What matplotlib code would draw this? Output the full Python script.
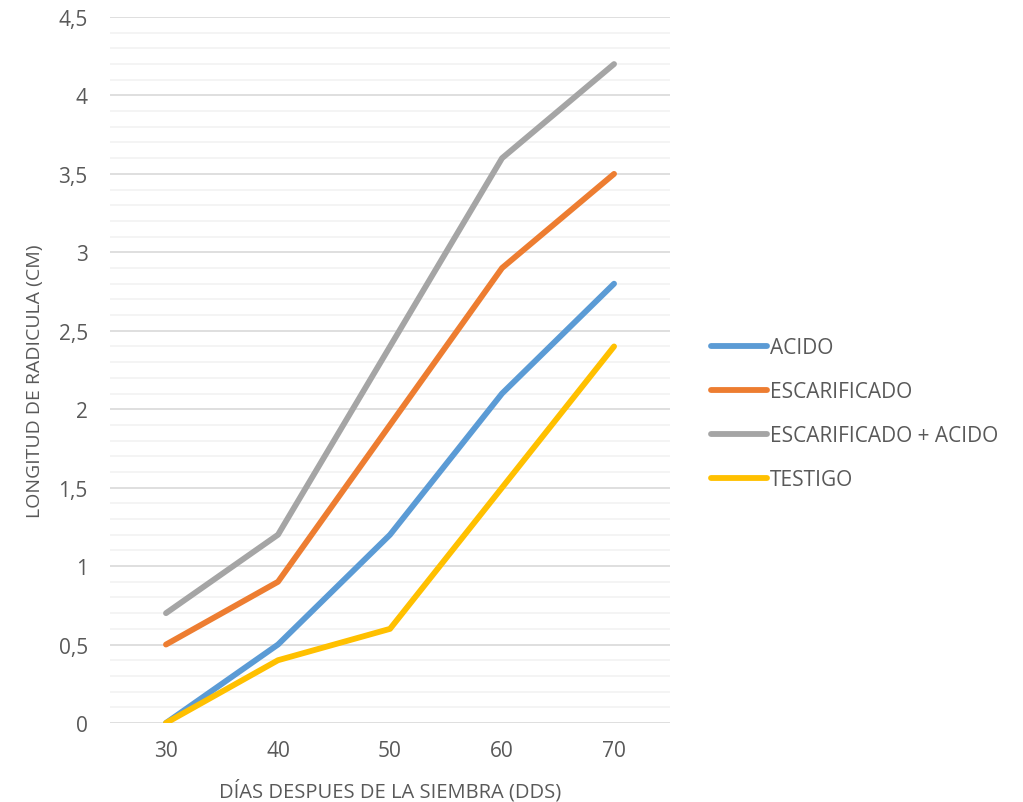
import numpy as np
import matplotlib.pyplot as plt
from matplotlib.ticker import MultipleLocator, FuncFormatter

dias = [30, 40, 50, 60, 70]
acido = [0, 0.5, 1.2, 2.1, 2.8]
escarificado = [0.5, 0.9, 1.9, 2.9, 3.5]
escarificado_acido = [0.7, 1.2, 2.4, 3.6, 4.2]
testigo = [0, 0.4, 0.6, 1.5, 2.4]

series = [
    ("ACIDO", acido, "#5b9bd5"),
    ("ESCARIFICADO", escarificado, "#ed7d31"),
    ("ESCARIFICADO + ACIDO", escarificado_acido, "#a5a5a5"),
    ("TESTIGO", testigo, "#ffc000"),
]

plt.rcParams["font.family"] = ["Open Sans", "DejaVu Sans"]
txt = "#595959"

fig = plt.figure(figsize=(10.23, 8.03), dpi=100)
ax = fig.add_axes([0.1075, 0.0984, 0.5475, 0.8792])

for name, vals, col in series:
    ax.plot(dias, vals, color=col, lw=4.2, label=name,
            solid_capstyle="round", solid_joinstyle="round", zorder=3)

ax.set_xlim(25, 75)
ax.set_ylim(0, 4.5)
ax.set_xticks(dias)
ax.yaxis.set_major_locator(MultipleLocator(0.5))
ax.yaxis.set_minor_locator(MultipleLocator(0.1))
ax.yaxis.set_major_formatter(FuncFormatter(lambda v, p: ("%g" % v).replace(".", ",")))
ax.grid(axis="y", which="major", color="#d9d9d9", lw=1.2, zorder=0)
ax.grid(axis="y", which="minor", color="#f2f2f2", lw=1.2, zorder=0)
for s in ax.spines.values():
    s.set_visible(False)
ax.tick_params(axis="both", which="both", length=0, colors=txt, labelsize=15)
ax.tick_params(axis="x", pad=12)
ax.tick_params(axis="y", pad=16)

ax.set_xlabel("DÍAS DESPUES DE LA SIEMBRA (DDS)", color=txt, fontsize=14.5)
ax.set_ylabel("LONGITUD DE RADICULA (CM)", color=txt, fontsize=14)
ax.xaxis.set_label_coords(0.5, -0.08)
ax.yaxis.set_label_coords(-0.117, 0.486)

leg = ax.legend(loc="center left", bbox_to_anchor=(1.04, 0.438), frameon=False,
                fontsize=15, labelcolor=txt, handlelength=2.7, handletextpad=0.1,
                labelspacing=1.1)

fig.savefig("out.png", dpi=100)
